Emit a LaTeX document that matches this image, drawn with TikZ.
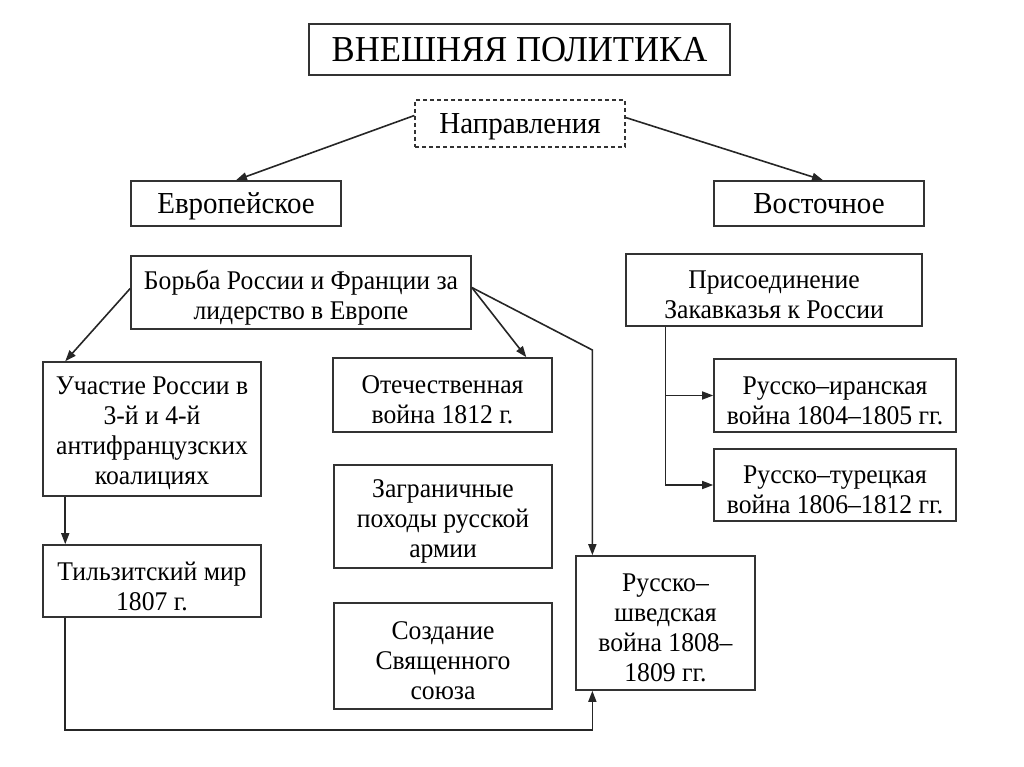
\documentclass[tikz,border=0pt]{standalone}
\usepackage{fontspec}
\setmainfont[FakeStretch=0.95]{Liberation Serif}
\usetikzlibrary{calc,arrows.meta}
\begin{document}
\begin{tikzpicture}[x=1pt,y=-1pt,
  base/.style={draw=black!80, line width=1.6pt, align=center, inner sep=2pt},
  box/.style={base},
  txt/.style={align=center, inner sep=0pt, font=\fontsize{27}{30}\selectfont},
  head/.style={base, font=\fontsize{30.5}{33}\selectfont,
    execute at begin node={\rule[-6pt]{0pt}{32pt}}},
  titlebox/.style={base, font=\fontsize{36.5}{40}\selectfont,
    execute at begin node={\rule[-6pt]{0pt}{36pt}}},
  conn/.style={line width=1.6pt, black!85},
  arr/.style={conn, -{Triangle[length=11pt,width=8pt]}}]
\useasboundingbox (0,0) rectangle (1024,767);
\node[titlebox, minimum width=421pt, minimum height=51pt] (title) at (519.5,49.5) {ВНЕШНЯЯ ПОЛИТИКА};
\node[head, dash pattern=on 4pt off 3pt, line width=1.2pt, minimum width=210pt, minimum height=47pt] (napr) at (520,123.5) {Направления};
\node[head, minimum width=210pt, minimum height=45pt] (evr) at (236,203.5) {Европейское};
\node[head, minimum width=210pt, minimum height=45pt] (vost) at (819,203.5) {Восточное};
\node[box, minimum width=340pt, minimum height=73pt] (bor) at (301,292.5) {};
\node[box, minimum width=296pt, minimum height=72pt] (pris) at (774,290) {};
\node[box, minimum width=218pt, minimum height=134pt] (uch) at (152,429) {};
\node[box, minimum width=219pt, minimum height=74pt] (otech) at (442.5,395) {};
\node[box, minimum width=218pt, minimum height=103pt] (zagr) at (443,516.5) {};
\node[box, minimum width=218pt, minimum height=106pt] (sozd) at (443,656) {};
\node[box, minimum width=218pt, minimum height=72pt] (tilz) at (152,581) {};
\node[box, minimum width=179pt, minimum height=134pt] (shved) at (665.5,623) {};
\node[box, minimum width=242pt, minimum height=73pt] (iran) at (835,395.5) {};
\node[box, minimum width=242pt, minimum height=72pt] (tur) at (835,485) {};
% texts
\node[txt] (bor-t) at ([yshift=-5pt]bor.center) {Борьба России и Франции за\\лидерство в Европе};
\node[txt] (pris-t) at ([yshift=-5pt]pris.center) {Присоединение\\Закавказья к России};
\node[txt] (uch-t) at ([yshift=-4pt]uch.center) {Участие России в\\3-й и 4-й\\антифранцузских\\коалициях};
\node[txt] (otech-t) at ([yshift=-5pt]otech.center) {Отечественная\\война 1812 г.};
\node[txt] (zagr-t) at ([yshift=-5pt]zagr.center) {Заграничные\\походы русской\\армии};
\node[txt] (sozd-t) at ([yshift=-5pt]sozd.center) {Создание\\Священного\\союза};
\node[txt] (tilz-t) at ([yshift=-5pt]tilz.center) {Тильзитский мир\\1807 г.};
\node[txt] (shved-t) at ([yshift=-5pt]shved.center) {Русско–\\шведская\\война 1808–\\1809 гг.};
\node[txt] (iran-t) at ([yshift=-5pt]iran.center) {Русско–иранская\\война 1804–1805 гг.};
\node[txt] (tur-t) at ([yshift=-5pt]tur.center) {Русско–турецкая\\война 1806–1812 гг.};
% connectors
\draw[arr] ([yshift=8pt]napr.west) -- (evr.north);
\draw[arr] ([yshift=6pt]napr.east) -- ($(vost.north)+(4,0)$);
\coordinate (uchN) at ($(uch.north west)!0.105!(uch.north east)$);
\coordinate (uchS) at ($(uch.south west)!0.105!(uch.south east)$);
\coordinate (tilzN) at ($(tilz.north west)!0.105!(tilz.north east)$);
\coordinate (tilzS) at ($(tilz.south west)!0.105!(tilz.south east)$);
\coordinate (otN) at ($(otech.north west)!0.88!(otech.north east)$);
\coordinate (shN) at ($(shved.north west)!0.095!(shved.north east)$);
\coordinate (shS) at ($(shved.south west)!0.095!(shved.south east)$);
\coordinate (prS) at ($(pris.south west)!0.135!(pris.south east)$);
\coordinate (borE) at ([yshift=5pt]bor.east);
\draw[arr] ([yshift=4pt]bor.west) -- (uchN);
\draw[arr] (borE) -- (otN);
\draw[arr] (borE) -- (shN |- 0,350) -- (shN);
\draw[arr] (uchS) -- (tilzN);
\draw[arr] (tilzS) -- (tilzS |- 0,730) -- (shS |- 0,730) -- (shS);
\draw[conn] (prS) -- (prS |- tur.west);
\draw[arr] (prS |- iran.west) -- (iran.west);
\draw[arr] (prS |- tur.west) -- (tur.west);
\end{tikzpicture}
\end{document}
